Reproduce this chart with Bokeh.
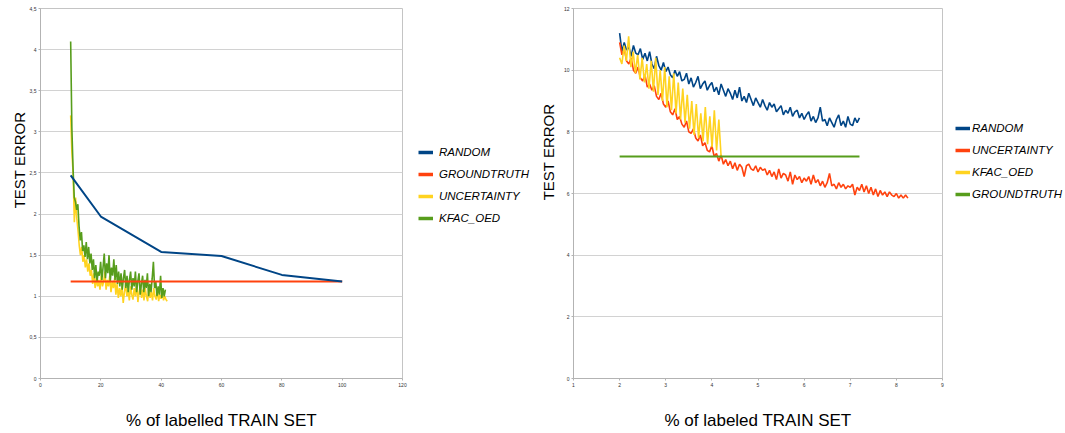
import numpy as np
from math import pi
from bokeh.plotting import figure
from bokeh.layouts import row
from bokeh.models import FixedTicker, Legend, LegendItem, Label
from bokeh.embed import file_html
from bokeh.resources import INLINE

FONT = "Liberation Sans"
BLUE, ORANGE, YELLOW, GREEN = "#004586", "#ff420e", "#ffd320", "#579d1c"

# ---------------- left chart data ----------------
left_xticks = [0, 20, 40, 60, 80, 100, 120]
left_yticks = [0, 0.5, 1, 1.5, 2, 2.5, 3, 3.5, 4, 4.5]
left_ytick_labels = ["0", "0,5", "1", "1,5", "2", "2,5", "3", "3,5", "4", "4,5"]

left_random_x = [10, 20, 40, 60, 80, 100]
left_random_y = [2.47, 1.97, 1.54, 1.49, 1.26, 1.18]
left_gt_x = [10, 100]
left_gt_y = [1.18, 1.18]

left_kfac_x = np.linspace(10, 41.4, 80)
left_kfac_y = [4.10, 3.05, 2.55, 2.20, 2.15, 2.05, 2.12, 1.85, 1.68, 1.78,
               1.55, 1.62, 1.48, 1.66, 1.45, 1.60, 1.40, 1.52, 1.32, 1.45,
               1.22, 1.38, 1.18, 1.30, 1.25, 1.42, 1.20, 1.35, 1.52, 1.22,
               1.40, 1.28, 1.50, 1.18, 1.35, 1.25, 1.45, 1.20, 1.38, 1.15,
               1.30, 1.12, 1.28, 1.08, 1.22, 1.32, 1.10, 1.25, 1.05, 1.20,
               1.30, 1.08, 1.22, 1.12, 1.30, 1.05, 1.18, 1.28, 1.02, 1.15,
               1.25, 1.05, 1.20, 1.10, 1.28, 1.00, 1.15, 1.05, 1.22, 1.42,
               1.10, 1.18, 1.00, 1.12, 1.02, 1.25, 0.98, 1.10, 1.00, 1.08]

left_unc_x = np.linspace(10, 42, 80)
left_unc_y = [3.20, 2.75, 2.50, 1.90, 2.20, 1.95, 1.80, 1.62, 1.50, 1.60,
              1.42, 1.50, 1.35, 1.45, 1.30, 1.40, 1.25, 1.32, 1.15, 1.28,
              1.10, 1.22, 1.12, 1.20, 1.08, 1.25, 1.12, 1.18, 1.30, 1.08,
              1.20, 1.12, 1.25, 1.05, 1.18, 1.10, 1.22, 1.02, 1.15, 0.98,
              1.10, 1.00, 1.12, 0.92, 1.05, 1.15, 1.00, 1.08, 0.95, 1.12,
              1.02, 0.96, 1.10, 1.00, 1.15, 0.93, 1.05, 1.12, 0.98, 1.08,
              0.95, 1.10, 1.00, 0.94, 1.12, 0.98, 1.05, 0.95, 1.10, 1.00,
              0.96, 1.08, 0.94, 1.02, 0.97, 1.05, 0.95, 1.00, 0.96, 0.94]

# ---------------- right chart data ----------------
right_xticks = [1, 2, 3, 4, 5, 6, 7, 8, 9]
right_yticks = [0, 2, 4, 6, 8, 10, 12]

right_random_x = np.linspace(2.0, 7.2, 105)
right_random_y = [11.20, 10.60, 10.90, 10.65, 10.75, 10.45, 10.80, 10.55, 10.50, 10.70,
                  10.35, 10.55, 10.30, 10.60, 10.20, 10.05, 10.45, 10.15, 10.00, 10.25,
                  9.95, 10.10, 9.85, 9.75, 10.00, 9.80, 9.95, 9.65, 9.70, 9.90,
                  9.55, 9.75, 9.45, 9.60, 9.80, 9.40, 9.55, 9.65, 9.35, 9.50,
                  9.60, 9.30, 9.45, 9.20, 9.55, 9.35, 9.15, 9.40, 9.25, 9.05,
                  9.35, 9.10, 9.45, 9.00, 9.15, 8.95, 9.25, 9.05, 8.85, 9.10,
                  8.95, 8.80, 9.05, 8.85, 8.70, 8.95, 8.80, 8.90, 8.65, 8.75,
                  8.85, 8.55, 8.70, 8.60, 8.80, 8.50, 8.65, 8.70, 8.45, 8.60,
                  8.40, 8.55, 8.65, 8.35, 8.50, 8.30, 8.45, 8.80, 8.35, 8.40,
                  8.20, 8.45, 8.30, 8.15, 8.40, 8.55, 8.20, 8.35, 8.15, 8.50,
                  8.25, 8.20, 8.45, 8.30, 8.45]

right_unc_x = np.linspace(2.0, 8.25, 126)
right_unc_y = [10.90, 10.50, 10.70, 10.30, 10.20, 10.40, 10.00, 9.90, 10.10, 9.75,
               9.65, 9.85, 9.45, 9.55, 9.35, 9.50, 9.15, 9.05, 9.25, 8.90,
               8.80, 9.00, 8.65, 8.55, 8.75, 8.40, 8.50, 8.25, 8.15, 8.35,
               8.00, 7.95, 8.10, 7.80, 7.70, 7.90, 7.55, 7.65, 7.40, 7.35,
               7.55, 7.20, 7.30, 7.05, 7.25, 6.95, 7.10, 6.90, 7.05, 6.80,
               7.00, 6.75, 6.95, 6.85, 6.55, 6.90, 6.95, 6.80, 6.75, 6.90,
               6.70, 6.85, 6.75, 6.80, 6.60, 6.75, 6.55, 6.70, 6.45, 6.80,
               6.50, 6.65, 6.60, 6.40, 6.70, 6.30, 6.60, 6.45, 6.55, 6.35,
               6.50, 6.40, 6.55, 6.30, 6.60, 6.35, 6.45, 6.25, 6.40, 6.20,
               6.35, 6.65, 6.25, 6.30, 6.15, 6.35, 6.20, 6.30, 6.15, 6.25,
               6.20, 6.30, 5.95, 6.20, 6.10, 6.30, 6.05, 6.25, 6.00, 6.20,
               5.95, 6.15, 5.90, 6.10, 5.95, 6.05, 5.90, 6.05, 5.95, 5.90,
               6.00, 5.85, 5.95, 5.85, 5.95, 5.85]

right_kfac_x = np.linspace(2.0, 4.2, 46)
right_kfac_y = [10.40, 10.20, 10.80, 10.30, 11.10, 10.10, 10.60, 9.90, 10.50, 9.70,
                10.40, 9.60, 10.20, 9.40, 10.30, 9.30, 10.40, 9.20, 10.00, 9.00,
                10.10, 8.80, 9.80, 8.70, 9.90, 8.60, 9.60, 8.40, 9.40, 8.30,
                9.20, 8.10, 9.00, 7.90, 8.90, 7.80, 8.60, 7.70, 8.80, 7.60,
                8.50, 7.50, 8.70, 7.40, 8.40, 7.20]

right_gt_x = [2.0, 7.2]
right_gt_y = [7.2, 7.2]

H = 432          # height of every figure in the row
B_TOP = 8        # frame top
B_BOTTOM = 53    # room under the frame for tick labels and the x title


def blank_fig(width):
    q = figure(width=width, height=H, x_range=(-1000, -999), y_range=(-1000, -999),
               x_axis_type=None, y_axis_type=None, output_backend="svg",
               toolbar_location=None, min_border_left=0, min_border_right=0,
               min_border_top=B_TOP, min_border_bottom=B_BOTTOM)
    q.grid.visible = False
    q.outline_line_color = None
    return q


def make_fig(width, xr, yr, xticks, yticks, ylabels, bl, br, xlabel):
    p = figure(width=width, height=H, x_range=xr, y_range=yr,
               output_backend="svg", toolbar_location=None,
               min_border_left=bl, min_border_right=br,
               min_border_top=B_TOP, min_border_bottom=B_BOTTOM)
    p.xgrid.visible = False
    p.ygrid.grid_line_color = "#d2d2d2"
    p.ygrid.grid_line_width = 1
    p.outline_line_color = "#c4c4c4"
    for ax in (p.xaxis[0], p.yaxis[0]):
        ax.axis_line_color = "#b3b3b3"
        ax.major_tick_line_color = "#b3b3b3"
        ax.major_tick_out = 2
        ax.major_tick_in = 0
        ax.minor_tick_line_color = None
        ax.major_label_text_font = FONT
        ax.major_label_text_font_size = "5px"
        ax.major_label_text_color = "#333333"
        ax.major_label_standoff = 2
    p.xaxis[0].ticker = FixedTicker(ticks=xticks)
    p.yaxis[0].ticker = FixedTicker(ticks=yticks)
    if ylabels is not None:
        p.yaxis[0].major_label_overrides = {t: s for t, s in zip(yticks, ylabels)}
    p.xaxis[0].axis_label = xlabel
    p.xaxis[0].axis_label_text_font = FONT
    p.xaxis[0].axis_label_text_font_size = "17px"
    p.xaxis[0].axis_label_text_font_style = "normal"
    p.xaxis[0].axis_label_text_color = "black"
    p.xaxis[0].axis_label_standoff = 21
    return p


def ylabel_fig(width, x, y):
    q = blank_fig(width)
    q.add_layout(Label(x=x, y=y, x_units="screen", y_units="screen",
                       text="TEST ERROR", angle=pi / 2, text_align="center",
                       text_baseline="middle", text_font=FONT,
                       text_font_size="15px", text_color="black"))
    return q


def legend_fig(width, names, xs, ys, colors, loc, standoff):
    q = blank_fig(width)
    items = []
    for n, x, y, c in zip(names, xs, ys, colors):
        r = q.line(x, y, line_color=c, line_width=3.5)
        items.append(LegendItem(label=n, renderers=[r]))
    lg = Legend(items=items, location=loc, label_text_font=FONT,
                label_text_font_style="italic", label_text_font_size="11.5px",
                label_text_color="black", glyph_width=15, glyph_height=20,
                label_height=20, label_standoff=standoff, spacing=2, padding=0,
                margin=0, border_line_color=None, background_fill_alpha=0)
    q.add_layout(lg, "center")
    return q


# ---------------- left chart ----------------
ylab1 = ylabel_fig(26, 18.5, 218.5)
p1 = make_fig(382, (0, 120), (0, 4.5), left_xticks, left_yticks, left_ytick_labels,
              14, 6, "% of labelled TRAIN SET")
p1.line(left_unc_x, left_unc_y, line_color=YELLOW, line_width=1.6)
p1.line(left_kfac_x, left_kfac_y, line_color=GREEN, line_width=1.6)
p1.line(left_gt_x, left_gt_y, line_color=ORANGE, line_width=2)
p1.line(left_random_x, left_random_y, line_color=BLUE, line_width=2)

leg1 = legend_fig(122, ["RANDOM", "GROUNDTRUTH", "UNCERTAINTY", "KFAC_OED"],
                  [left_random_x, left_gt_x, left_unc_x, left_kfac_x],
                  [left_random_y, left_gt_y, left_unc_y, left_kfac_y],
                  [BLUE, ORANGE, YELLOW, GREEN], (10, 150), 6)

# ---------------- right chart ----------------
ylab2 = ylabel_fig(30, 18, 226.5)
p2 = make_fig(388, (1, 9), (0, 12), right_xticks, right_yticks, None,
              13, 6, "% of labeled TRAIN SET")
p2.line(right_random_x, right_random_y, line_color=BLUE, line_width=1.6)
p2.line(right_unc_x, right_unc_y, line_color=ORANGE, line_width=1.6)
p2.line(right_kfac_x, right_kfac_y, line_color=YELLOW, line_width=1.6)
p2.line(right_gt_x, right_gt_y, line_color=GREEN, line_width=2)

leg2 = legend_fig(117, ["RANDOM", "UNCERTAINTY", "KFAC_OED", "GROUNDTRUTH"],
                  [right_random_x, right_unc_x, right_kfac_x, right_gt_x],
                  [right_random_y, right_unc_y, right_kfac_y, right_gt_y],
                  [BLUE, ORANGE, YELLOW, GREEN], (7, 174), 2)

layout = row(ylab1, p1, leg1, ylab2, p2, leg2)
open("out.html", "w").write(file_html(layout, INLINE))
